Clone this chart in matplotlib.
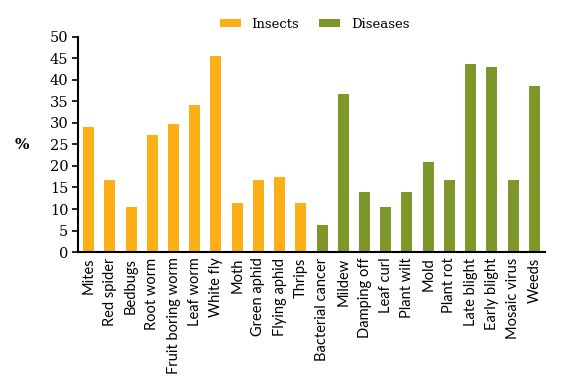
import matplotlib.pyplot as plt
import numpy as np

insects = ['Mites', 'Red spider', 'Bedbugs', 'Root worm', 'Fruit boring worm',
           'Leaf worm', 'White fly', 'Moth', 'Green aphid', 'Flying aphid', 'Thrips']
insect_vals = [29.0, 16.7, 10.5, 27.2, 29.8, 34.2, 45.6, 11.5, 16.7, 17.4, 11.5]

diseases = ['Bacterial cancer', 'Mildew', 'Damping off', 'Leaf curl', 'Plant wilt',
            'Mold', 'Plant rot', 'Late blight', 'Early blight', 'Mosaic virus', 'Weeds']
disease_vals = [6.2, 36.8, 14.0, 10.5, 14.0, 20.9, 16.7, 43.8, 43.0, 16.7, 38.5]

orange = '#FDAF17'
green = '#7E972B'

fig = plt.figure(figsize=(5.67, 3.92), dpi=100)
ax = fig.add_axes([0.1376, 0.357, 0.8234, 0.549])

x1 = np.arange(len(insects))
x2 = np.arange(len(diseases)) + len(insects)
ax.bar(x1, insect_vals, width=0.52, color=orange, label='Insects')
ax.bar(x2, disease_vals, width=0.52, color=green, label='Diseases')

ax.set_xlim(-0.5, len(insects) + len(diseases) - 0.5)
ax.set_ylim(0, 50)
ax.set_yticks(range(0, 51, 5))
ax.set_xticks(np.concatenate([x1, x2]))
ax.set_xticklabels(insects + diseases, rotation=90, fontsize=10.5, family='Lato')
ax.tick_params(axis='x', length=0, pad=4)
ax.tick_params(axis='y', direction='out', length=4, width=1.2, labelsize=10.5, pad=3)
for lab in ax.get_yticklabels():
    lab.set_family('DejaVu Serif')

for s in ['top', 'right']:
    ax.spines[s].set_visible(False)
ax.spines['left'].set_linewidth(1.5)
ax.spines['bottom'].set_linewidth(1.5)

fig.text(0.038, 0.63, '%', fontsize=11, fontweight='bold', family='DejaVu Serif',
         ha='center', va='center')

fig.legend(loc='upper center', bbox_to_anchor=(0.555, 0.985), ncol=2, frameon=False,
           prop={'family': 'DejaVu Serif', 'size': 9.5}, handlelength=1.6,
           handleheight=0.6, columnspacing=1.5)

fig.savefig('out.png', dpi=100)
